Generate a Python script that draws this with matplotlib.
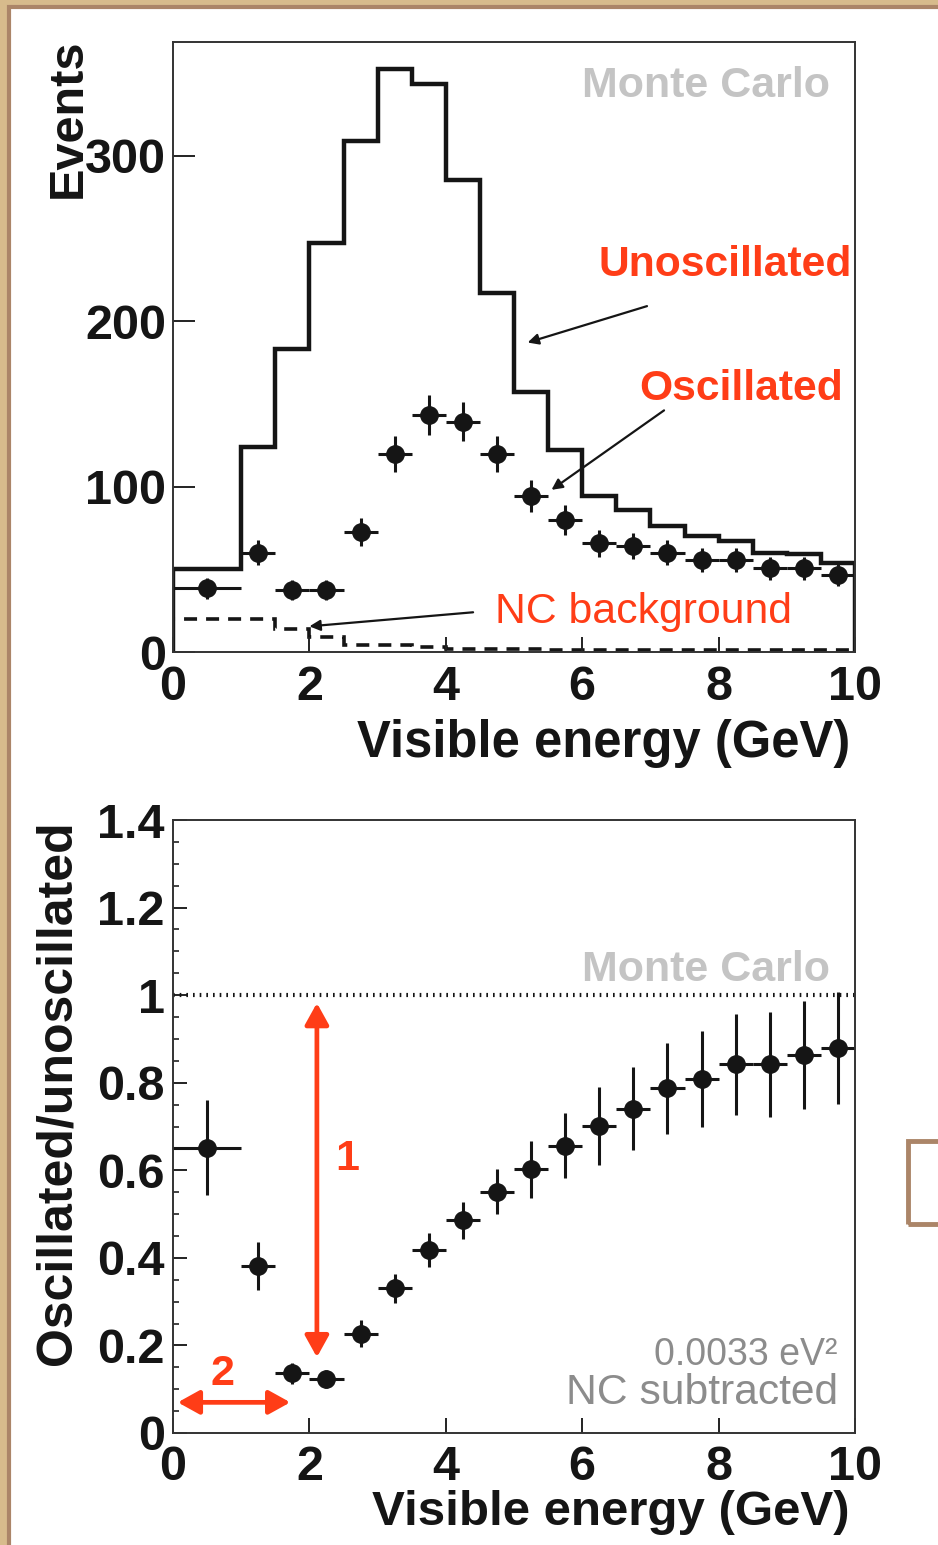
import numpy as np
import matplotlib.pyplot as plt
import matplotlib.transforms as mtransforms
from matplotlib.patches import Rectangle, FancyArrowPatch

plt.rcParams['font.family'] = ['Liberation Sans', 'DejaVu Sans']

# Top panel data
edges = [0, 1, 1.5, 2, 2.5, 3, 3.5, 4, 4.5, 5, 5.5, 6, 6.5, 7, 7.5, 8, 8.5, 9, 9.5, 10]
unosc = [50, 124, 183, 247, 309, 352, 343, 285, 217, 157, 122, 94, 86, 76, 70, 67, 60, 59, 54]
nc_bg = [20, 20, 14, 9, 4, 4, 3, 2, 2, 2, 1.5, 1.5, 1.5, 1, 1, 1, 1, 1, 1]
centers = [0.5, 1.25, 1.75, 2.25, 2.75, 3.25, 3.75, 4.25, 4.75, 5.25, 5.75,
           6.25, 6.75, 7.25, 7.75, 8.25, 8.75, 9.25, 9.75]
half_w = [0.5] + [0.25] * 18
osc = [38.5, 60, 37.5, 37.5, 72.7, 119.6, 143.2, 139.2, 119.6, 94.3, 79.8,
       65.7, 64, 60, 55.6, 55.6, 50.6, 50.6, 46.5]
osc_err = [6.2, 7.7, 6.1, 6.1, 8.5, 10.9, 12.0, 11.8, 10.9, 9.7, 8.9,
           8.1, 8.0, 7.7, 7.5, 7.5, 7.1, 7.1, 6.8]

# Bottom panel data
ratio = [0.652, 0.381, 0.136, 0.124, 0.227, 0.331, 0.418, 0.486, 0.551, 0.602,
         0.656, 0.701, 0.741, 0.787, 0.808, 0.842, 0.842, 0.863, 0.879]
ratio_err = [0.108, 0.055, 0.025, 0.021, 0.030, 0.033, 0.038, 0.042, 0.051, 0.065,
             0.074, 0.090, 0.095, 0.103, 0.110, 0.115, 0.120, 0.123, 0.128]

RED = '#ff3d17'
TAN = '#d7bb8c'
BROWN = '#ab8568'
INK = '#151515'

fig = plt.figure(figsize=(9.38, 15.45), dpi=100)
fig.patch.set_facecolor(TAN)
fig.patches.append(Rectangle((9 / 938, -0.02), 1.2, 1.02 - 7 / 1545,
                             transform=fig.transFigure, facecolor='white',
                             edgecolor=BROWN, lw=3, zorder=-10))
fig.patches.append(Rectangle((908 / 938, 1 - 1224 / 1545), 0.2, 83 / 1545,
                             transform=fig.transFigure, facecolor='none',
                             edgecolor=BROWN, lw=3.5, zorder=-5))

ax1 = fig.add_axes([173 / 938, 1 - 652 / 1545, 682 / 938, 610 / 1545])
ax2 = fig.add_axes([173 / 938, 1 - 1433 / 1545, 682 / 938, 613 / 1545])

for ax, (ly, lsize) in zip((ax1, ax2), ((-0.11, 36.5), (-0.093, 35.5))):
    ax.set_xlim(0, 10)
    ax.set_xticks([0, 2, 4, 6, 8, 10])
    ax.tick_params(axis='both', direction='in', labelsize=35, width=1.4, colors='#222222')
    ax.tick_params(axis='x', length=11, pad=9)
    for s in ax.spines.values():
        s.set_linewidth(1.4)
        s.set_color('#333333')
    for lab in ax.get_xticklabels() + ax.get_yticklabels():
        lab.set_fontweight('bold')
        lab.set_color(INK)
    ax.text(0.9927, ly, 'Visible energy (GeV)', transform=ax.transAxes,
            ha='right', va='top', fontsize=lsize, fontweight='bold', color=INK)

# ---- top panel
ax1.set_ylim(0, 368.6)
ax1.set_yticks([0, 100, 200, 300])
ax1.tick_params(axis='y', length=16, pad=5)
ax1.stairs(unosc, edges, color=INK, lw=3.2)
ax1.stairs(nc_bg, edges, color=INK, lw=2.6, linestyle=(0, (3.6, 2.5)))
ax1.errorbar(centers, osc, xerr=half_w, yerr=osc_err, fmt='o', color=INK,
             ms=12.5, elinewidth=2.2, capsize=0)
ax1.text(-0.154, 1.006, 'Events', transform=ax1.transAxes, rotation=90,
         ha='center', va='top', fontsize=35, fontweight='bold', color=INK)
ax1.text(0.963, 0.928, 'Monte Carlo', transform=ax1.transAxes, ha='right',
         va='center', fontsize=31, fontweight='bold', color='#c4c4c4')

ax1.text(9.95, 234, 'Unoscillated', ha='right', va='center', fontsize=30.7,
         fontweight='bold', color=RED)
ax1.annotate('', xy=(5.2, 187), xytext=(6.95, 209),
             arrowprops=dict(arrowstyle='-|>', color=INK, lw=1.6, mutation_scale=16,
                             shrinkA=0, shrinkB=0))
ax1.text(9.82, 159, 'Oscillated', ha='right', va='center', fontsize=30.7,
         fontweight='bold', color=RED)
ax1.annotate('', xy=(5.55, 98), xytext=(7.2, 146),
             arrowprops=dict(arrowstyle='-|>', color=INK, lw=1.6, mutation_scale=16,
                             shrinkA=0, shrinkB=0))
ax1.text(4.72, 24, 'NC background', ha='left', va='center', fontsize=30.8,
         color=RED)
ax1.annotate('', xy=(2.0, 15.5), xytext=(4.4, 24),
             arrowprops=dict(arrowstyle='-|>', color=INK, lw=1.6, mutation_scale=16,
                             shrinkA=0, shrinkB=0))

# ---- bottom panel
ax2.set_ylim(0, 1.4)
ax2.set_yticks([0, 0.2, 0.4, 0.6, 0.8, 1, 1.2, 1.4])
ax2.set_yticklabels(['0', '0.2', '0.4', '0.6', '0.8', '1', '1.2', '1.4'],
                    fontweight='bold', color=INK)
lift = mtransforms.ScaledTranslation(0, 5 / 100, fig.dpi_scale_trans)
for lab in ax2.get_yticklabels():
    lab.set_transform(lab.get_transform() + lift)
ax2.set_yticks(np.arange(0, 1.41, 0.05), minor=True)
ax2.tick_params(axis='y', which='major', length=10, pad=6)
ax2.tick_params(axis='y', which='minor', direction='in', length=4.5, width=1.2, colors='#222222')
ax2.axhline(1.0, color=INK, lw=3, linestyle=(0, (0.4, 1.2)))
ax2.errorbar(centers, ratio, xerr=half_w, yerr=ratio_err, fmt='o', color=INK,
             ms=12.5, elinewidth=2.2, capsize=0)
ax2.text(-0.170, 1.0, 'Oscillated/unoscillated', transform=ax2.transAxes, rotation=90,
         ha='center', va='top', fontsize=36, fontweight='bold', color=INK)
ax2.text(0.963, 0.755, 'Monte Carlo', transform=ax2.transAxes, ha='right',
         va='center', fontsize=31, fontweight='bold', color='#c4c4c4')
ax2.text(0.975, 0.128, '0.0033 eV²', transform=ax2.transAxes, ha='right',
         va='center', fontsize=27, color='#8c8c8c')
ax2.text(0.975, 0.066, 'NC subtracted', transform=ax2.transAxes, ha='right',
         va='center', fontsize=30.7, color='#8c8c8c')

arrow_style = '<|-|>,head_length=1.3,head_width=0.72'
ax2.add_patch(FancyArrowPatch((2.11, 0.173), (2.11, 0.982), arrowstyle=arrow_style,
                              color=RED, lw=3.4, mutation_scale=10,
                              shrinkA=0, shrinkB=0))
ax2.text(2.55, 0.625, '1', ha='center', va='center', fontsize=31,
         fontweight='bold', color=RED)
ax2.add_patch(FancyArrowPatch((0.07, 0.07), (1.72, 0.07), arrowstyle=arrow_style,
                              color=RED, lw=3.4, mutation_scale=10,
                              shrinkA=0, shrinkB=0))
ax2.text(0.72, 0.135, '2', ha='center', va='center', fontsize=31,
         fontweight='bold', color=RED)

fig.savefig('out.png', dpi=100, facecolor=fig.get_facecolor())
